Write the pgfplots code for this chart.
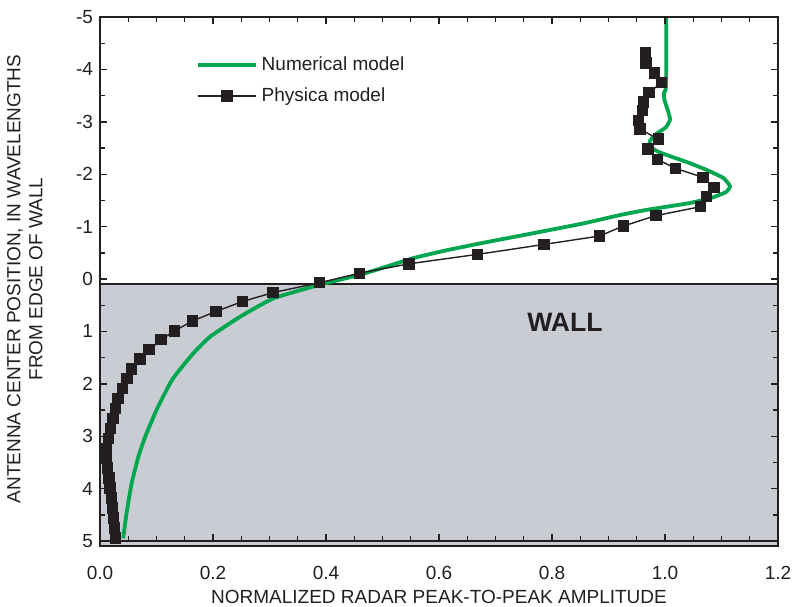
\documentclass[border=0pt]{standalone}
\usepackage{fontspec}
\setmainfont{Liberation Sans}
\usepackage{pgfplots}
\pgfplotsset{compat=1.18}
\definecolor{numgreen}{RGB}{0,166,80}
\definecolor{wallgray}{RGB}{201,204,211}
\definecolor{txt}{RGB}{35,31,32}
\begin{document}
\begin{tikzpicture}
\begin{axis}[
  scale only axis, width=339pt, height=262pt,
  xmin=0, xmax=1.2, ymin=-5, ymax=5,
  y dir=reverse,
  clip=false,
  axis on top,
  axis line style={line width=1.1pt, txt},
  tick style={line width=0.7pt, txt},
  tick align=inside,
  major tick length=3.5pt, minor tick length=2.5pt,
  xtick={0,0.2,...,1.2}, minor x tick num=3,
  ytick={-5,-4,...,5}, minor y tick num=1,
  x tick label style={/pgf/number format/fixed, /pgf/number format/fixed zerofill, /pgf/number format/precision=1, yshift=-9pt},
  /pgf/number format/assume math mode=true,
  tick label style={font=\fontsize{9.5}{11}\selectfont, text=txt},
  xlabel={NORMALIZED RADAR PEAK-TO-PEAK AMPLITUDE},
  ylabel={ANTENNA CENTER POSITION, IN WAVELENGTHS\\FROM EDGE OF WALL},
  ylabel style={align=center, font=\fontsize{9.5}{11}\selectfont, text=txt,
    at={(axis description cs:-0.111,0.5)}, anchor=center},
  xlabel style={font=\fontsize{9.5}{11}\selectfont, text=txt,
    at={(axis description cs:0.5,-0.106)}, anchor=center},
  legend style={at={(0.132,0.94)}, anchor=north west, draw=none, fill=none,
    font=\fontsize{9.5}{11}\selectfont, text=txt, row sep=3pt},
  legend cell align=left,
  legend image code/.code={\draw[#1] (0cm,0cm) -- (1.02cm,0cm); \draw[#1,only marks] plot coordinates {(0.51cm,0cm)};},
]
\filldraw[fill=wallgray, draw=txt, line width=1pt] (axis cs:0,0.1) rectangle (axis cs:1.2,5.1);
\addplot[numgreen, line width=1.9pt, smooth, tension=0.3] coordinates {
(1.002,-5) (1.002,-3.70) (0.998,-3.55) (0.999,-3.42) (1.004,-3.25) (1.009,-3.05)
(1.002,-2.90) (0.985,-2.77) (0.973,-2.63) (0.976,-2.50) (0.990,-2.42) (1.010,-2.34)
(1.044,-2.21) (1.074,-2.08) (1.103,-1.93) (1.115,-1.77) (1.108,-1.66) (1.085,-1.56)
(1.044,-1.45) (0.968,-1.32) (0.920,-1.22) (0.855,-1.06) (0.760,-0.86) (0.673,-0.68)
(0.610,-0.54) (0.555,-0.40) (0.505,-0.23) (0.460,-0.08) (0.389,0.11) (0.307,0.37)
(0.248,0.72) (0.195,1.10) (0.165,1.42) (0.136,1.80) (0.124,1.99) (0.100,2.50)
(0.080,3.01) (0.068,3.39) (0.056,3.90) (0.047,4.47) (0.041,4.95)
};
\addlegendentry{Numerical model}
\addplot[txt, line width=0.7pt, mark=square*, mark size=2.5pt, mark options={fill=txt}] coordinates {
(0.965,-4.31) (0.966,-4.12) (0.981,-3.93) (0.994,-3.75) (0.972,-3.56) (0.962,-3.38)
(0.960,-3.22) (0.953,-3.03) (0.956,-2.86) (0.988,-2.67) (0.970,-2.48) (0.987,-2.28)
(1.019,-2.11) (1.067,-1.94) (1.087,-1.75) (1.073,-1.57) (1.063,-1.38) (0.984,-1.21)
(0.926,-1.01) (0.884,-0.82) (0.786,-0.66) (0.668,-0.47) (0.547,-0.29) (0.459,-0.11)
(0.389,0.07) (0.306,0.26) (0.252,0.43) (0.205,0.62) (0.164,0.80) (0.132,0.99)
(0.108,1.16) (0.087,1.35) (0.071,1.53) (0.056,1.72) (0.048,1.90) (0.040,2.09)
(0.032,2.28) (0.027,2.47) (0.023,2.66) (0.019,2.85) (0.015,3.04) (0.012,3.23)
(0.011,3.42) (0.013,3.61) (0.016,3.80) (0.018,3.99) (0.020,4.18) (0.022,4.37)
(0.024,4.56) (0.026,4.75) (0.027,4.94)
};
\addlegendentry{Physica model}
\node[font=\bfseries\fontsize{13.3}{15}\selectfont, text=txt] at (axis cs:0.823,0.82) {WALL};
\end{axis}
\pgfresetboundingbox
\path ([shift={(-50pt,-33pt)}]current axis.south west) rectangle ([shift={(8.5pt,8.5pt)}]current axis.north east);
\end{tikzpicture}
\end{document}
